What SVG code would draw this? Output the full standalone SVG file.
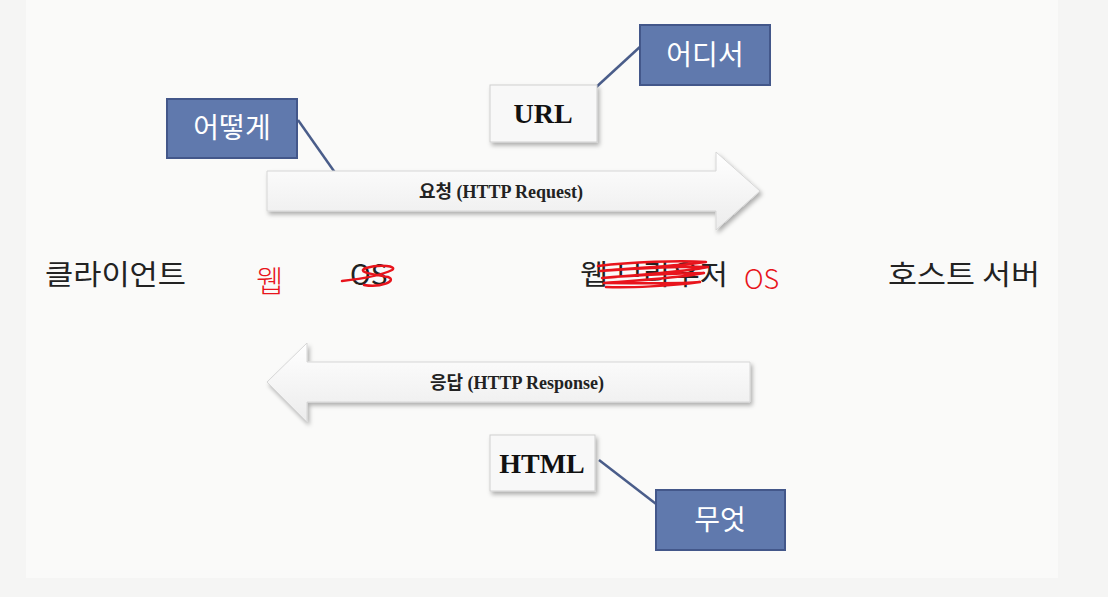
<svg xmlns="http://www.w3.org/2000/svg" width="1108" height="597" viewBox="0 0 1108 597">
<style>
.lbl{fill:#6079ad;stroke:#43578a;stroke-width:2}
.lblt{font-family:"Noto Sans CJK KR","Noto Sans",sans-serif;font-size:28px;fill:#ffffff;text-anchor:middle}
.box{fill:#f8f8f8;stroke:#d0d0d0;stroke-width:1}
.boxt{font-family:"Liberation Serif","Noto Sans CJK KR",serif;font-weight:bold;font-size:28px;fill:#111;text-anchor:middle}
.arr{fill:url(#ag);stroke:#d6d6d6;stroke-width:1}
.arrt{font-family:"Liberation Serif","Noto Sans CJK KR",serif;font-weight:bold;font-size:18px;fill:#222;text-anchor:middle}
.mid{font-family:"Noto Sans CJK KR","Noto Sans",sans-serif;font-size:28px;fill:#222}
.red{font-family:"Noto Sans CJK KR",sans-serif;font-weight:300;fill:#e8141c}
.scrib{fill:none;stroke:#e8141c;stroke-width:2.5;stroke-linecap:round;stroke-linejoin:round}
.conn{stroke:#4a5d8a;stroke-width:2.5}
</style>
<defs>
<linearGradient id="ag" x1="0" y1="0" x2="0" y2="1">
<stop offset="0" stop-color="#ffffff"/>
<stop offset="1" stop-color="#ececec"/>
</linearGradient>
<filter id="sh" x="-10%" y="-20%" width="130%" height="160%">
<feDropShadow dx="2" dy="3" stdDeviation="2" flood-color="#000" flood-opacity="0.3"/>
</filter>
</defs>
<rect x="0" y="0" width="1108" height="597" fill="#f5f5f4"/>
<rect x="26" y="0" width="1032" height="578" fill="#fafaf9"/>

<g id="connectors">
<line class="conn" x1="298" y1="120" x2="336" y2="174"/>
<line class="conn" x1="593" y1="90" x2="642" y2="45"/>
<line class="conn" x1="599" y1="460" x2="660" y2="507"/>
</g>

<g id="request">
<path class="arr" filter="url(#sh)" d="M267,171 H716 V152 L760,191 L716,230 V211 H267 Z"/>
<text class="arrt" x="501" y="198">요청 (HTTP Request)</text>
</g>
<g id="response">
<path class="arr" filter="url(#sh)" d="M750,362 H307 V343 L267,382 L307,422 V402 H750 Z"/>
<text class="arrt" x="517" y="389">응답 (HTTP Response)</text>
</g>

<g id="url">
<rect class="box" filter="url(#sh)" x="490" y="85" width="107" height="57"/>
<text class="boxt" x="543" y="123">URL</text>
</g>
<g id="html">
<rect class="box" filter="url(#sh)" x="490" y="435" width="105" height="56"/>
<text class="boxt" x="542" y="473">HTML</text>
</g>

<g id="how">
<rect class="lbl" x="167" y="99" width="130" height="59"/>
<text class="lblt" x="232" y="138">어떻게</text>
</g>
<g id="where">
<rect class="lbl" x="640" y="25" width="130" height="60"/>
<text class="lblt" x="705" y="65">어디서</text>
</g>
<g id="what">
<rect class="lbl" x="656" y="490" width="129" height="60"/>
<text class="lblt" x="720" y="530">무엇</text>
</g>

<g id="client">
<text class="mid" x="45" y="285" textLength="141" lengthAdjust="spacingAndGlyphs">클라이언트</text>
</g>
<g id="os">
<text class="red" x="256" y="292" font-size="30">웹</text>
<text class="mid" x="350" y="285">OS</text>
<path class="scrib" d="M342,281 C360,279 380,276 392,270 C398,266 380,264 366,268 C356,272 372,274 388,277 C398,281 380,288 364,285"/>
</g>
<g id="browser">
<text class="mid" x="580" y="285" textLength="148" lengthAdjust="spacingAndGlyphs">웹 브라우저</text>
<path class="scrib" d="M598,266 C630,262 680,260 706,262 C680,266 630,268 600,271 C640,268 690,266 708,267 C690,271 640,275 602,278 C640,275 690,273 704,273 C680,278 630,281 604,283 C640,283 680,284 700,282 C670,286 630,288 606,287"/>
<text class="red" x="744" y="289" font-size="27">OS</text>
</g>
<g id="server">
<text class="mid" x="888" y="285" textLength="152" lengthAdjust="spacingAndGlyphs">호스트 서버</text>
</g>
</svg>
